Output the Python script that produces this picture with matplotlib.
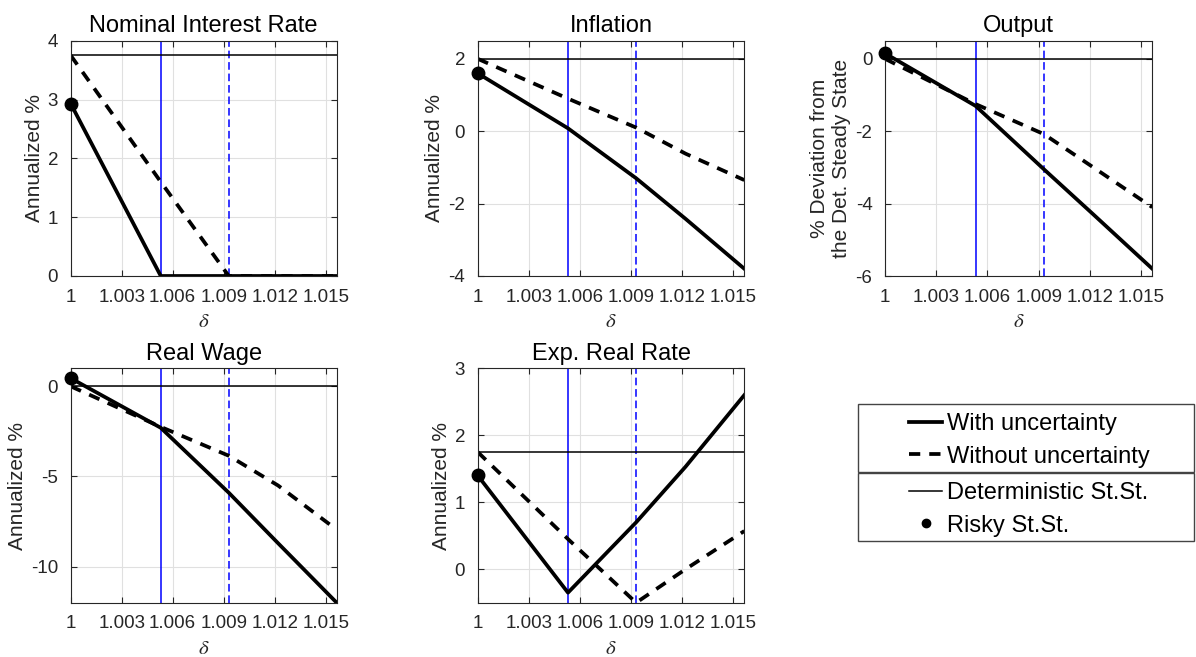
import matplotlib.pyplot as plt
from matplotlib.lines import Line2D
from matplotlib.patches import Rectangle
import numpy as np

plt.rcParams['font.family'] = ['Liberation Sans', 'DejaVu Sans']
plt.rcParams['mathtext.fontset'] = 'stix'
plt.rcParams['axes.unicode_minus'] = False

delta = [1.0, 1.0053, 1.0093, 1.0122, 1.01565]
zlb_with = 1.0053      # ZLB binds, with uncertainty
zlb_without = 1.0093   # ZLB binds, without uncertainty

titles = ['Nominal Interest Rate', 'Inflation', 'Output', 'Real Wage', 'Exp. Real Rate']
ylabels = ['Annualized %', 'Annualized %', '% Deviation from\nthe Det. Steady State',
           'Annualized %', 'Annualized %']

nom_with = [2.93, 0.0, 0.0, 0.0, 0.0]
nom_without = [3.75, 1.6, 0.0, 0.0, 0.0]
infl_with = [1.6, 0.08, -1.3, -2.42, -3.8]
infl_without = [2.0, 0.9, 0.1, -0.62, -1.35]
out_with = [0.15, -1.3, -3.05, -4.3, -5.8]
out_without = [0.0, -1.25, -2.08, -3.0, -4.1]
wage_with = [0.45, -2.3, -5.9, -8.7, -12.0]
wage_without = [0.0, -2.25, -3.85, -5.5, -7.95]
rr_with = [1.4, -0.35, 0.7, 1.53, 2.6]
rr_without = [1.75, 0.45, -0.5, 0.0, 0.57]

det_ss = [3.75, 2.0, 0.0, 0.0, 1.75]

with_unc = [nom_with, infl_with, out_with, wage_with, rr_with]
without_unc = [nom_without, infl_without, out_without, wage_without, rr_without]

ylims = [(0, 4), (-4, 2.5), (-6, 0.5), (-12, 1), (-0.5, 3)]
yticks = [[0, 1, 2, 3, 4], [-4, -2, 0, 2], [-6, -4, -2, 0], [-10, -5, 0], [0, 1, 2, 3]]
xticks = [1, 1.003, 1.006, 1.009, 1.012, 1.015]
xticklabels = ['1', '1.003', '1.006', '1.009', '1.012', '1.015']

W, H = 1196, 657
fig = plt.figure(figsize=(W / 100, H / 100), dpi=100)

# axes boxes in pixels: left, top, right, bottom
boxes = [(70.7, 40.7, 336.7, 276), (477.7, 40.7, 744.3, 276), (885, 40.7, 1152.3, 276),
         (70.7, 368.3, 336.7, 602.7), (477.7, 368.3, 744.3, 602.7)]

dark = '#262626'
lw = 2.7
for i in range(5):
    l, t, r, b = boxes[i]
    ax = fig.add_axes([l / W, 1 - b / H, (r - l) / W, (b - t) / H])
    ax.grid(True, color='#e0e0e0', linewidth=0.8)
    ax.set_axisbelow(True)
    ax.axvline(zlb_with, color='#0000ff', linewidth=1.1)
    ax.axvline(zlb_without, color='#0000ff', linewidth=1.1, dashes=(5, 2.5))
    ax.axhline(det_ss[i], color='black', linewidth=1.1)
    ax.plot(delta, without_unc[i], color='black', linewidth=lw, dashes=(3, 2.4))
    ax.plot(delta, with_unc[i], color='black', linewidth=lw)
    ax.plot(delta[0], with_unc[i][0], 'o', color='black', markersize=9, clip_on=False, zorder=5)
    ax.set_xlim(1.0, 1.01565)
    ax.set_ylim(*ylims[i])
    ax.set_xticks(xticks)
    ax.set_xticklabels(xticklabels)
    ax.set_yticks(yticks[i])
    ax.tick_params(direction='in', top=True, right=True, length=4, labelsize=13.5,
                   colors=dark, labelcolor=dark, pad=9)
    for s in ax.spines.values():
        s.set_color(dark)
        s.set_linewidth(0.8)
    ax.set_title(titles[i], fontsize=17, pad=6)
    ax.set_xlabel(r'$\delta$', fontsize=15, color=dark, labelpad=5)
    ax.set_ylabel(ylabels[i], fontsize=15, color=dark, labelpad=3)

# legends with drawn frames
h1 = [Line2D([], [], color='black', linewidth=lw),
      Line2D([], [], color='black', linewidth=lw, dashes=(3, 2.4))]
h2 = [Line2D([], [], color='black', linewidth=1.1),
      Line2D([], [], color='black', linestyle='none', marker='o', markersize=6)]
lg1 = fig.legend(h1, ['With uncertainty', 'Without uncertainty'], loc='upper left',
                 bbox_to_anchor=(909 / W, 1 - 413 / H), frameon=False, fontsize=17,
                 borderpad=0, borderaxespad=0, handlelength=1.4, handletextpad=0.2,
                 labelspacing=0.45)
lg2 = fig.legend(h2, ['Deterministic St.St.', 'Risky St.St.'], loc='upper left',
                 bbox_to_anchor=(909 / W, 1 - 482 / H), frameon=False, fontsize=17,
                 borderpad=0, borderaxespad=0, handlelength=1.4, handletextpad=0.2,
                 labelspacing=0.45, numpoints=1)
fig.patches.append(Rectangle((857.7 / W, 1 - 471.7 / H), (1194 - 857.7) / W, 67.7 / H,
                             transform=fig.transFigure, fill=False, edgecolor='#444444',
                             linewidth=1.0))
fig.patches.append(Rectangle((857.7 / W, 1 - 541 / H), (1194 - 857.7) / W, 67.7 / H,
                             transform=fig.transFigure, fill=False, edgecolor='#444444',
                             linewidth=1.0))

fig.savefig('out.png', dpi=100)
